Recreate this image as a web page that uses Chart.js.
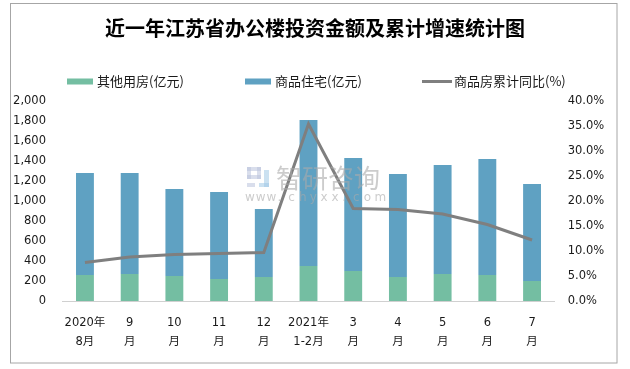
<!DOCTYPE html>
<html><head><meta charset="utf-8">
<script src="https://cdn.jsdelivr.net/npm/chart.js@4"></script>
<style>html,body{margin:0;padding:0;background:#fff}</style>
</head><body>
<canvas id="c" width="630" height="369" style="display:block;width:630px;height:369px"></canvas>
<script>
const categories = [["2020年","8月"],["9","月"],["10","月"],["11","月"],["12","月"],["2021年","1-2月"],["3","月"],["4","月"],["5","月"],["6","月"],["7","月"]];
const otherUse = [260, 270, 250, 220, 240, 350, 300, 240, 270, 260, 200];
const residential = [1020, 1010, 870, 870, 680, 1460, 1130, 1030, 1090, 1160, 970];
const yoyGrowth = [7.7, 8.8, 9.3, 9.5, 9.7, 35.4, 18.5, 18.3, 17.4, 15.3, 12.2];
const leftTickValues = [0, 200, 400, 600, 800, 1000, 1200, 1400, 1600, 1800, 2000];
const rightTickValues = [0, 5, 10, 15, 20, 25, 30, 35, 40];
const seriesNames = ["其他用房(亿元)", "商品住宅(亿元)", "商品房累计同比(%)"];
const titleText = "近一年江苏省办公楼投资金额及累计增速统计图";

const GREEN = '#74BEA2', BLUE = '#5FA1C2', GREY = '#7F7F7F';
const NUMFONT = "'DejaVu Sans', 'Noto Sans CJK SC', sans-serif";
const CJK = "'Noto Sans CJK SC', sans-serif";

const frame = {
  id: 'frame',
  beforeDraw(chart) {
    const ctx = chart.ctx;
    ctx.save();
    ctx.fillStyle = '#fff';
    ctx.fillRect(0, 0, chart.width, chart.height);
    ctx.strokeStyle = '#a6a6a6';
    ctx.lineWidth = 1;
    ctx.strokeRect(10.5, 3.5, 606.5, 359.5);
    ctx.restore();
  },
  afterDatasetsDraw(chart) {
    const ctx = chart.ctx;
    ctx.save();
    // watermark
    ctx.fillStyle = 'rgba(185,195,220,0.55)';
    ctx.fillRect(247, 167, 14, 4);
    ctx.fillRect(247, 167, 4, 12);
    ctx.fillRect(257, 167, 4, 12);
    ctx.fillRect(247, 175, 14, 4);
    ctx.fillRect(247, 183, 8, 4);
    ctx.fillStyle = 'rgba(160,200,230,0.55)';
    ctx.fillRect(264, 170, 5, 17);
    ctx.fillRect(259, 183, 10, 4);
    ctx.fillStyle = 'rgba(170,170,170,0.6)';
    ctx.font = "26px " + CJK;
    ctx.textBaseline = 'middle';
    ctx.textAlign = 'left';
    ctx.fillText('智研咨询', 276, 178);
    ctx.font = "12px " + NUMFONT;
    const url = 'www.chyxx.com';
    for (let i = 0; i < url.length; i++) {
      ctx.fillText(url[i], 245 + i * 10.8, 198);
    }
    ctx.restore();
  },
  afterDraw(chart) {
    const ctx = chart.ctx;
    ctx.save();
    ctx.font = "13px " + CJK;
    ctx.textBaseline = 'middle';
    ctx.textAlign = 'left';
    ctx.fillStyle = '#1a1a1a';
    const y = 81.5;
    const ds = chart.data.datasets;
    // item 1
    ctx.fillStyle = ds[0].backgroundColor;
    ctx.fillRect(67, y - 3, 26, 6);
    ctx.fillStyle = '#1a1a1a';
    ctx.fillText(ds[0].label, 97, y);
    // item 2
    ctx.fillStyle = ds[1].backgroundColor;
    ctx.fillRect(245, y - 3, 26, 6);
    ctx.fillStyle = '#1a1a1a';
    ctx.fillText(ds[1].label, 275, y);
    // item 3
    ctx.strokeStyle = ds[2].borderColor;
    ctx.lineWidth = 3;
    ctx.beginPath();
    ctx.moveTo(422, y); ctx.lineTo(452, y);
    ctx.stroke();
    ctx.fillText(ds[2].label, 454, y);
    ctx.restore();
  }
};

new Chart(document.getElementById('c'), {
  data: {
    labels: categories,
    datasets: [
      { type: 'bar', label: seriesNames[0], data: otherUse, backgroundColor: GREEN, yAxisID: 'y', stack: 's', order: 1 },
      { type: 'bar', label: seriesNames[1], data: residential, backgroundColor: BLUE, yAxisID: 'y', stack: 's', order: 1 },
      { type: 'line', label: seriesNames[2], data: yoyGrowth, borderColor: GREY, backgroundColor: GREY, borderWidth: 3, pointRadius: 0, tension: 0, yAxisID: 'y1', order: 0 }
    ]
  },
  options: {
    responsive: false,
    animation: false,
    devicePixelRatio: 1,
    layout: { padding: { left: 10, right: 10, top: 0, bottom: 0 } },
    datasets: { bar: { barPercentage: 0.4, categoryPercentage: 1 } },
    plugins: {
      legend: { display: false },
      tooltip: { enabled: false },
      title: {
        display: true, text: titleText, color: '#000',
        font: { family: CJK, size: 20, weight: 'bold', lineHeight: 1.2 },
        padding: { top: 16, bottom: 61 }
      }
    },
    scales: {
      x: {
        stacked: true,
        grid: { display: false, drawTicks: false },
        border: { display: true, color: '#d0d0d0', width: 1 },
        ticks: { color: '#1a1a1a', padding: 12, maxRotation: 0, autoSkip: false, font: { family: NUMFONT, size: 11.5, lineHeight: 1.7 } },
        afterFit(s) { s.height = 68; }
      },
      y: {
        stacked: true, position: 'left',
        min: leftTickValues[0], max: leftTickValues[leftTickValues.length - 1],
        grid: { display: false, drawTicks: false },
        border: { display: false },
        afterBuildTicks(s) { s.ticks = leftTickValues.map(v => ({ value: v })); },
        ticks: { color: '#1a1a1a', padding: 16.6, font: { family: NUMFONT, size: 11.5 },
          callback: v => v.toLocaleString('en-US') },
        afterFit(s) { s.width = 52.6; }
      },
      y1: {
        position: 'right',
        min: rightTickValues[0], max: rightTickValues[rightTickValues.length - 1],
        grid: { display: false, drawTicks: false },
        border: { display: false },
        afterBuildTicks(s) { s.ticks = rightTickValues.map(v => ({ value: v })); },
        ticks: { color: '#1a1a1a', padding: 13.3, font: { family: NUMFONT, size: 11.5 },
          callback: v => v.toFixed(1) + '%' },
        afterFit(s) { s.width = 65.6; }
      }
    }
  },
  plugins: [frame]
});
</script>
</body></html>
